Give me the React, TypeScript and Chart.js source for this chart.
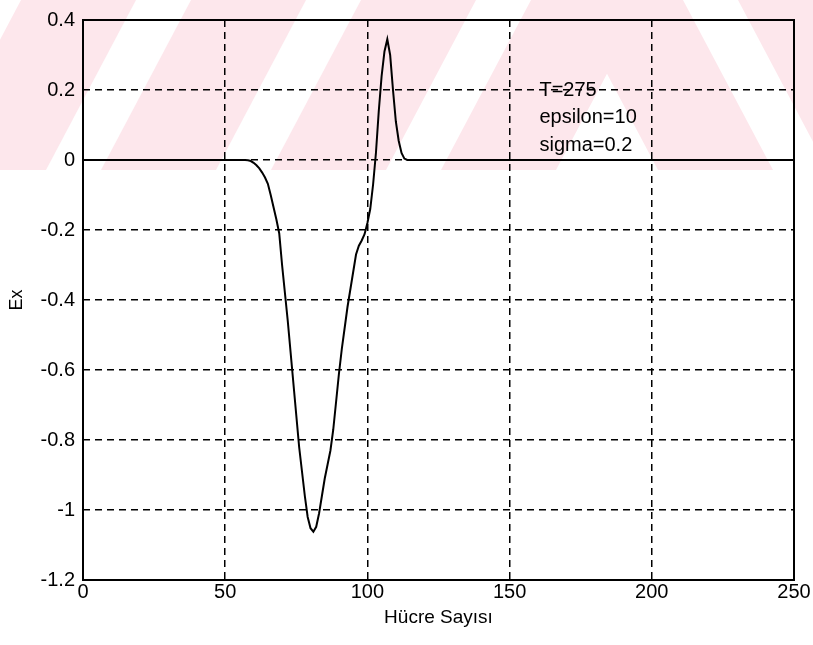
import React, { useEffect, useRef } from "react";
import { Chart, registerables } from "chart.js";

Chart.register(...registerables);

// ---- data ----
const cells: number[] = [
  0, 56, 57, 58, 59, 60, 61, 62, 63, 64, 65, 66, 67, 68, 69, 70, 71, 72, 73, 74, 75,
  76, 77, 78, 79, 80, 81, 82, 83, 84, 85, 86, 87, 88, 89, 90, 91, 92, 93, 94, 95,
  96, 97, 98, 99, 100, 101, 102, 103, 104, 105, 106, 107, 108, 109, 110, 111, 112,
  113, 114, 250,
];
const exValues: number[] = [
  0, 0, 0, -0.001, -0.003, -0.008, -0.015, -0.024, -0.036, -0.05, -0.068, -0.1,
  -0.135, -0.17, -0.21, -0.3, -0.38, -0.46, -0.55, -0.64, -0.73, -0.82, -0.89,
  -0.96, -1.02, -1.052, -1.062, -1.048, -1.01, -0.96, -0.91, -0.87, -0.83, -0.77,
  -0.69, -0.61, -0.54, -0.48, -0.42, -0.37, -0.32, -0.27, -0.245, -0.23, -0.212,
  -0.18, -0.14, -0.07, 0.02, 0.14, 0.24, 0.31, 0.345, 0.3, 0.2, 0.11, 0.055, 0.02,
  0.004, 0, 0,
];
const xTicks: number[] = [0, 50, 100, 150, 200, 250];
const yTicks: number[] = [0.4, 0.2, 0, -0.2, -0.4, -0.6, -0.8, -1, -1.2];
const yTickLabels: string[] = ["0.4", "0.2", "0", "-0.2", "-0.4", "-0.6", "-0.8", "-1", "-1.2"];
const annotationLines: string[] = ["T=275", "epsilon=10", "sigma=0.2"];
const xTitle = "Hücre Sayısı";
const yTitle = "Ex";

const FONT = "'Liberation Sans', Arial, Helvetica, sans-serif";

const watermarkPlugin = {
  id: "watermark",
  beforeDraw(chart: any) {
    const ctx = chart.ctx as CanvasRenderingContext2D;
    const W = chart.width;
    const H = 170;
    const center = 607;
    const run = 90;
    const bw = 55;
    ctx.save();
    ctx.fillStyle = "#fde7ec";
    ctx.fillRect(0, 0, W, H);
    ctx.fillStyle = "#ffffff";
    ctx.save();
    ctx.beginPath();
    ctx.rect(0, 0, center, H);
    ctx.clip();
    for (let k = 0; k < 6; k++) {
      const x0 = center - 51 - k * 170;
      ctx.beginPath();
      ctx.moveTo(x0, H);
      ctx.lineTo(x0 + bw, H);
      ctx.lineTo(x0 + bw + run * 2, H - 2 * H);
      ctx.lineTo(x0 + run * 2, H - 2 * H);
      ctx.closePath();
      ctx.fill();
    }
    ctx.restore();
    ctx.save();
    ctx.beginPath();
    ctx.rect(center, 0, W - center, H);
    ctx.clip();
    for (let k = 0; k < 4; k++) {
      const x1 = center + 51 + k * 170;
      ctx.beginPath();
      ctx.moveTo(x1, H);
      ctx.lineTo(x1 - bw, H);
      ctx.lineTo(x1 - bw - run * 2, H - 2 * H);
      ctx.lineTo(x1 - run * 2, H - 2 * H);
      ctx.closePath();
      ctx.fill();
    }
    ctx.restore();
    ctx.restore();
  },
};

const framePlugin = {
  id: "frameAndText",
  afterDraw(chart: any) {
    const ctx = chart.ctx as CanvasRenderingContext2D;
    const a = chart.chartArea;
    ctx.save();
    ctx.strokeStyle = "#000";
    ctx.lineWidth = 2;
    ctx.setLineDash([]);
    ctx.strokeRect(a.left, a.top, a.right - a.left, a.bottom - a.top);
    const xs = chart.scales.x;
    const ys = chart.scales.y;
    const px = xs.getPixelForValue(160.5);
    const py = ys.getPixelForValue(0.2);
    ctx.fillStyle = "#000";
    ctx.font = `20px ${FONT}`;
    ctx.textAlign = "left";
    ctx.textBaseline = "middle";
    annotationLines.forEach((t, i) => ctx.fillText(t, px, py + i * 27.5));
    ctx.restore();
  },
};

export default function App() {
  const ref = useRef<HTMLCanvasElement | null>(null);
  useEffect(() => {
    if (!ref.current) return;
    const points = cells.map((c, i) => ({ x: c, y: exValues[i] }));
    const chart = new Chart(ref.current, {
      type: "line",
      data: {
        datasets: [
          {
            data: points,
            borderColor: "#000",
            borderWidth: 2,
            pointRadius: 0,
            tension: 0,
            fill: false,
          },
        ],
      },
      options: {
        animation: false,
        responsive: false,
        events: [],
        layout: { padding: { left: 0, top: 16, right: 19, bottom: 0 } },
        plugins: { legend: { display: false }, tooltip: { enabled: false } },
        scales: {
          x: {
            type: "linear",
            min: 0,
            max: 250,
            afterBuildTicks: (s: any) => {
              s.ticks = xTicks.map((v) => ({ value: v }));
            },
            afterFit: (s: any) => {
              s.height = 65;
            },
            ticks: {
              color: "#000",
              font: { family: FONT, size: 20 },
              padding: 0,
              maxRotation: 0,
              callback: (v: any) => String(v),
            },
            grid: { color: "#000", lineWidth: 1.5, drawTicks: false },
            border: { display: false, dash: [7, 5] },
            title: {
              display: true,
              text: xTitle,
              color: "#000",
              font: { family: FONT, size: 19 },
              padding: { top: 0, bottom: 16 },
            },
          },
          y: {
            type: "linear",
            min: -1.2,
            max: 0.4,
            afterBuildTicks: (s: any) => {
              s.ticks = yTicks.map((v) => ({ value: v }));
            },
            afterFit: (s: any) => {
              s.width = 83;
            },
            ticks: {
              color: "#000",
              font: { family: FONT, size: 20 },
              padding: 8,
              callback: (v: any) => {
                const i = yTicks.findIndex((t) => Math.abs(t - Number(v)) < 1e-6);
                return i >= 0 ? yTickLabels[i] : "";
              },
            },
            grid: { color: "#000", lineWidth: 1.5, drawTicks: false },
            border: { display: false, dash: [7, 5] },
            title: {
              display: true,
              text: yTitle,
              color: "#000",
              font: { family: FONT, size: 18 },
              padding: { top: 6, bottom: 0 },
            },
          },
        },
      },
      plugins: [watermarkPlugin, framePlugin],
    });
    return () => chart.destroy();
  }, []);
  return (
    <div style={{ position: "fixed", left: 0, top: 0, width: 813, height: 645, background: "#fff" }}>
      <canvas ref={ref} width={813} height={645} style={{ width: 813, height: 645, display: "block" }} />
    </div>
  );
}
